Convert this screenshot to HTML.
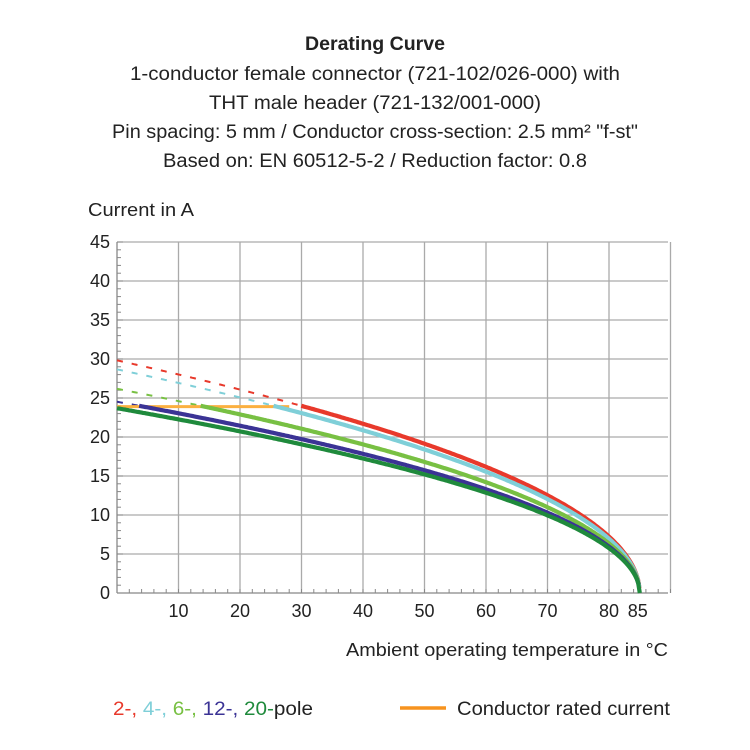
<!DOCTYPE html>
<html><head><meta charset="utf-8"><style>
html,body{margin:0;padding:0;background:#fff;}
svg{display:block;font-family:"Liberation Sans",sans-serif;}
</style></head><body>
<svg id="s" width="750" height="750" viewBox="0 0 750 750" xmlns="http://www.w3.org/2000/svg">
<g fill="#222" font-size="19" text-anchor="middle">
<text x="375" y="50" font-weight="600" textLength="140" lengthAdjust="spacingAndGlyphs">Derating Curve</text>
<text x="375" y="80" textLength="490" lengthAdjust="spacingAndGlyphs">1-conductor female connector (721-102/026-000) with</text>
<text x="375" y="109" textLength="332" lengthAdjust="spacingAndGlyphs">THT male header (721-132/001-000)</text>
<text x="375" y="138" textLength="526" lengthAdjust="spacingAndGlyphs">Pin spacing: 5 mm / Conductor cross-section: 2.5 mm² "f-st"</text>
<text x="375" y="167" textLength="424" lengthAdjust="spacingAndGlyphs">Based on: EN 60512-5-2 / Reduction factor: 0.8</text>
</g>
<text x="88" y="216" font-size="18" fill="#222" textLength="106" lengthAdjust="spacingAndGlyphs">Current in A</text>
<g id="grid" stroke="#aaa" stroke-width="1.3"></g>
<g id="ticks" stroke="#888" stroke-width="1"></g>
<g id="lab" fill="#222" font-size="18"></g>
<text x="668" y="656" font-size="18" fill="#222" text-anchor="end" textLength="322" lengthAdjust="spacingAndGlyphs">Ambient operating temperature in °C</text>
<g id="curves" fill="none" stroke-linecap="butt"></g>
<text x="113" y="715" font-size="19" textLength="200" lengthAdjust="spacingAndGlyphs"><tspan fill="#e8392b">2-, </tspan><tspan fill="#7fcfd8">4-, </tspan><tspan fill="#78c043">6-, </tspan><tspan fill="#3b3395">12-, </tspan><tspan fill="#1f8a3c">20-</tspan><tspan fill="#222">pole</tspan></text>
<line x1="400" y1="708" x2="446" y2="708" stroke="#f7931e" stroke-width="3.5"/>
<text x="457" y="715" font-size="19" fill="#222" textLength="213" lengthAdjust="spacingAndGlyphs">Conductor rated current</text>
</svg>
<script>
var NS="http://www.w3.org/2000/svg";
function X(t){return 117+6.15*t;} function Y(v){return 593-7.8*v;}
function el(p,n,a,txt){var e=document.createElementNS(NS,n);for(var k in a)e.setAttribute(k,a[k]);if(txt!=null)e.textContent=txt;document.getElementById(p).appendChild(e);return e;}
for(var v=5;v<=45;v+=5) el("grid","line",{x1:117,x2:668,y1:Y(v),y2:Y(v)});
for(var t=10;t<=90;t+=10) el("grid","line",{x1:X(t),x2:X(t),y1:242,y2:593});
el("grid","line",{x1:117,x2:117,y1:242,y2:593,stroke:"#888"});
el("grid","line",{x1:117,x2:668,y1:593,y2:593,stroke:"#888"});
for(var v=0;v<=45;v++) el("ticks","line",{x1:117,x2:v%5?121:123,y1:Y(v),y2:Y(v)});
for(var t=0;t<=90;t+=2) el("ticks","line",{x1:X(t),x2:X(t),y1:593,y2:589});
for(var v=0;v<=45;v+=5) el("lab","text",{x:110,y:Y(v)+6,"text-anchor":"end"},v);
var xl=[10,20,30,40,50,60,70,80];
xl.forEach(function(t){el("lab","text",{x:X(t),y:617,"text-anchor":"middle"},t);});
el("lab","text",{x:X(85)-2,y:617,"text-anchor":"middle"},85);
function path(k,t0,t1){var d="";for(var t=t0;t<=t1+1e-9;t+=0.25){var tt=Math.min(t,85);d+=(d?"L":"M")+X(tt).toFixed(1)+","+Y(k*Math.sqrt(85-tt)).toFixed(1);}return d;}
var S=[["#7fcfd8",3.11],["#e8392b",3.235],["#78c043",2.84],["#3b3395",2.66],["#1f8a3c",2.57]];
S.forEach(function(s){var tc=85-Math.pow(24/s[1],2);if(tc>0)el("curves","path",{d:path(s[1],0,tc),stroke:s[0],"stroke-width":2,"stroke-dasharray":"6,9"});});
el("curves","line",{x1:X(0),x2:X(28),y1:Y(23.9),y2:Y(23.9),stroke:"#fbb040","stroke-width":3});
var order=[1,0,2,3,4];
order.forEach(function(i){var s=S[i];var tc=Math.max(0,85-Math.pow(24/s[1],2));el("curves","path",{d:path(s[1],tc,85),stroke:s[0],"stroke-width":4.2});});
</script>
</body></html>
